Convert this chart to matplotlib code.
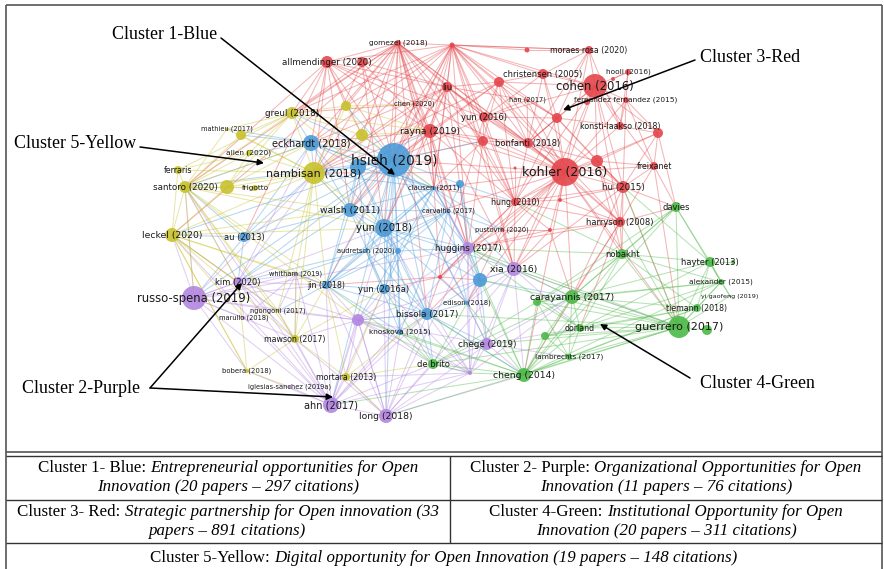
import matplotlib
matplotlib.use("Agg")
import matplotlib.pyplot as plt
from matplotlib.collections import LineCollection

# nodes of the co-citation map: (key, label, x, y, weight)
red_nodes = [
    ('allmendinger', 'allmendinger (2020)', 327, 62, 6),
    ('r_362', '', 362, 62, 5),
    ('gomezel', 'gomezel (2018)', 398, 43, 3),
    ('hub1', '', 452, 45, 2.5),
    ('r_527', '', 527, 50, 2.5),
    ('moraes', 'moraes rosa (2020)', 589, 50, 4),
    ('christensen', 'christensen (2005)', 543, 74, 5),
    ('r_499', '', 499, 82, 5),
    ('cohen', 'cohen (2016)', 595, 86, 12),
    ('hooli', 'hooli (2016)', 628, 72, 3),
    ('r_613', '', 613, 79, 2),
    ('fernandez', 'fernandez fernandez (2015)', 626, 100, 3),
    ('r_587', '', 587, 102, 3),
    ('liu', 'liu', 447, 87, 5),
    ('han', 'han (2017)', 527, 100, 1.5),
    ('chen', 'chen (2020)', 414, 104, 1.5),
    ('yun2016', 'yun (2016)', 484, 117, 5),
    ('r_557', '', 557, 118, 5),
    ('konsti', 'konsti-laakso (2018)', 620, 126, 4),
    ('r_658', '', 658, 133, 5),
    ('rayna', 'rayna (2019)', 430, 131, 7),
    ('r_483', '', 483, 141, 5),
    ('bonfanti', 'bonfanti (2018)', 528, 143, 5),
    ('kohler', 'kohler (2016)', 565, 172, 14),
    ('r_597', '', 597, 161, 6),
    ('freixanet', 'freixanet', 654, 166, 4),
    ('hu', 'hu (2015)', 623, 187, 6),
    ('hung', 'hung (2010)', 515, 202, 4),
    ('harryson', 'harryson (2008)', 620, 222, 5),
    ('r_560', '', 560, 200, 2),
    ('pustovrh', 'pustovrh (2020)', 502, 230, 1.5),
    ('r_550', '', 550, 230, 2),
    ('r_440', '', 440, 277, 2),
    ('r_515', '', 515, 168, 1.5),
]
blue_nodes = [
    ('hsieh', 'hsieh (2019)', 394, 160, 17),
    ('eckhardt', 'eckhardt (2018)', 311, 143, 8),
    ('b_358', '', 358, 167, 8),
    ('clausen', 'clausen (2011)', 434, 188, 2),
    ('b_460', '', 460, 184, 4),
    ('walsh', 'walsh (2011)', 350, 210, 7),
    ('yun2018', 'yun (2018)', 384, 228, 9),
    ('carvalho', 'carvalho (2017)', 448, 211, 1.5),
    ('audretsch', 'audretsch (2020)', 366, 251, 1.5),
    ('b_398', '', 398, 251, 3),
    ('au', 'au (2013)', 244, 237, 5),
    ('jin', 'jin (2018)', 326, 285, 4),
    ('yun2016a', 'yun (2016a)', 384, 289, 5),
    ('bissola', 'bissola (2017)', 427, 314, 6),
    ('b_480', '', 480, 280, 7),
    ('edison', 'edison (2018)', 467, 303, 2),
    ('knoskova', 'knoskova (2015)', 400, 332, 3),
]
purple_nodes = [
    ('russo', 'russo-spena (2019)', 194, 298, 12),
    ('kim', 'kim (2020)', 238, 282, 5),
    ('huggins', 'huggins (2017)', 468, 248, 6),
    ('xia', 'xia (2016)', 514, 269, 7),
    ('p_358', '', 358, 320, 6),
    ('chege', 'chege (2019)', 487, 344, 6),
    ('p_470', '', 470, 373, 2),
    ('ahn', 'ahn (2017)', 331, 405, 8),
    ('long', 'long (2018)', 386, 416, 7),
    ('whitham', 'whitham (2019)', 296, 274, 1.5),
    ('marullo', 'marullo (2018)', 244, 318, 1.5),
    ('iglesias', 'iglesias-sanchez (2019a)', 290, 387, 1.5),
]
yellow_nodes = [
    ('nambisan', 'nambisan (2018)', 314, 173, 11),
    ('greul', 'greul (2018)', 292, 113, 6),
    ('y_346', '', 346, 106, 5),
    ('y_362', '', 362, 135, 6),
    ('mathieu', 'mathieu (2017)', 227, 129, 1.5),
    ('y_241', '', 241, 135, 5),
    ('allen', 'allen (2020)', 249, 153, 3),
    ('ferraris', 'ferraris', 178, 170, 4),
    ('santoro', 'santoro (2020)', 185, 187, 6),
    ('y_227', '', 227, 187, 7),
    ('frigotto', 'frigotto', 255, 188, 3),
    ('leckel', 'leckel (2020)', 172, 235, 7),
    ('ngongoni', 'ngongoni (2017)', 278, 311, 1.5),
    ('mawson', 'mawson (2017)', 295, 339, 4),
    ('bobera', 'bobera (2018)', 247, 371, 2),
    ('mortara', 'mortara (2013)', 346, 377, 4),
]
green_nodes = [
    ('carayannis', 'carayannis (2017)', 572, 297, 7),
    ('g_537', '', 537, 302, 4),
    ('dorland', 'dorland', 580, 328, 4),
    ('g_545', '', 545, 336, 4),
    ('lambrechts', 'lambrechts (2017)', 569, 357, 3),
    ('cheng', 'cheng (2014)', 524, 375, 7),
    ('de_brito', 'de brito', 433, 364, 5),
    ('guerrero', 'guerrero (2017)', 679, 327, 11),
    ('g_707', '', 707, 330, 5),
    ('nobakht', 'nobakht', 622, 254, 5),
    ('davies', 'davies', 676, 207, 5),
    ('hayter', 'hayter (2013)', 710, 262, 5),
    ('g_733', '', 733, 262, 2),
    ('alexander', 'alexander (2015)', 721, 282, 3),
    ('yi', 'yi gaofeng (2019)', 730, 296, 1),
    ('tiemann', 'tiemann (2018)', 697, 308, 4),
]

# links between documents (source -> targets)
links = {
    'gomezel': ['allmendinger', 'r_362', 'hub1', 'liu', 'rayna', 'chen', 'greul', 'y_346', 'y_362', 'eckhardt',
                'hsieh', 'nambisan', 'walsh', 'clausen', 'yun2018', 'kohler', 'bonfanti', 'r_483', 'hung',
                'santoro', 'leckel', 'huggins', 'yun2016', 'carvalho', 'bissola', 'xia'],
    'hub1': ['r_527', 'moraes', 'christensen', 'r_499', 'liu', 'yun2016', 'rayna', 'r_483', 'bonfanti', 'kohler',
             'hsieh', 'nambisan', 'eckhardt', 'greul', 'y_346', 'walsh', 'yun2018', 'hung', 'cohen', 'r_557',
             'clausen', 'huggins', 'hu', 'harryson', 'allmendinger', 'xia', 'jin'],
    'allmendinger': ['greul', 'eckhardt', 'hsieh', 'nambisan', 'rayna', 'liu', 'yun2016', 'y_346', 'y_362',
                     'kohler', 'walsh', 'au', 'santoro'],
    'r_362': ['greul', 'hsieh', 'nambisan', 'rayna', 'liu', 'yun2018'],
    'moraes': ['christensen', 'cohen', 'r_557', 'kohler', 'r_527', 'hub1', 'bonfanti', 'konsti'],
    'christensen': ['cohen', 'r_499', 'r_557', 'kohler', 'bonfanti', 'yun2016'],
    'r_499': ['liu', 'yun2016', 'rayna', 'bonfanti', 'kohler', 'r_557', 'hsieh', 'hung', 'cohen', 'r_483',
              'nambisan'],
    'cohen': ['kohler', 'fernandez', 'r_587', 'konsti', 'r_557', 'bonfanti', 'hu', 'freixanet', 'hooli', 'r_658',
              'r_597', 'hung', 'harryson', 'xia'],
    'hooli': ['r_613', 'fernandez', 'konsti'],
    'fernandez': ['konsti', 'r_658', 'kohler', 'freixanet', 'hu'],
    'liu': ['rayna', 'yun2016', 'hsieh', 'nambisan', 'eckhardt', 'kohler', 'bonfanti', 'r_483', 'hung',
            'clausen', 'yun2018', 'huggins', 'walsh'],
    'yun2016': ['bonfanti', 'kohler', 'r_483', 'hung', 'r_557', 'hsieh', 'cohen', 'r_440'],
    'rayna': ['hsieh', 'nambisan', 'eckhardt', 'kohler', 'bonfanti', 'r_483', 'clausen', 'yun2018', 'hung',
              'walsh', 'carvalho', 'huggins', 'r_440'],
    'r_483': ['kohler', 'bonfanti', 'hung', 'hsieh', 'huggins', 'clausen', 'xia'],
    'bonfanti': ['kohler', 'hung', 'r_597', 'hu', 'harryson', 'r_557'],
    'kohler': ['r_597', 'hu', 'freixanet', 'harryson', 'hung', 'r_560', 'xia', 'huggins', 'hsieh', 'nambisan',
               'r_658', 'konsti', 'guerrero', 'carayannis', 'nobakht', 'pustovrh', 'r_550', 'clausen', 'r_440',
               'bissola', 'yun2018', 'cheng', 'edison'],
    'r_658': ['konsti', 'freixanet', 'hu', 'r_597', 'davies'],
    'hu': ['harryson', 'r_597', 'freixanet', 'r_560', 'hung', 'guerrero', 'nobakht', 'carayannis', 'davies', 'xia'],
    'harryson': ['hung', 'r_560', 'nobakht', 'carayannis', 'dorland', 'cheng', 'huggins', 'davies'],
    'hung': ['r_560', 'huggins', 'xia', 'r_550', 'r_440', 'clausen', 'r_515'],
    'freixanet': ['davies', 'guerrero', 'harryson'],
    'r_440': ['huggins', 'bissola', 'yun2016a', 'jin', 'edison', 'b_480'],
    'r_550': ['xia', 'huggins', 'carayannis', 'harryson'],
    'r_557': ['kohler', 'konsti', 'bonfanti', 'r_597', 'hu', 'hung'],
    'r_597': ['hu', 'freixanet', 'harryson', 'hung', 'nobakht'],
    'han': ['r_557', 'yun2016', 'bonfanti', 'kohler', 'liu'],
    'chen': ['rayna', 'hsieh', 'greul', 'liu', 'nambisan'],
    'pustovrh': ['huggins', 'xia', 'hung', 'r_550', 'edison'],
    'hsieh': ['eckhardt', 'b_358', 'nambisan', 'clausen', 'walsh', 'yun2018', 'carvalho', 'audretsch', 'b_398',
              'au', 'jin', 'yun2016a', 'bissola', 'b_480', 'edison', 'knoskova', 'huggins', 'greul', 'y_346',
              'y_362', 'r_483', 'kim', 'russo', 'leckel', 'santoro', 'b_460', 'ahn', 'long', 'chege'],
    'eckhardt': ['nambisan', 'greul', 'walsh', 'yun2018', 'b_358', 'au', 'santoro', 'allen', 'mathieu', 'y_241',
                 'clausen'],
    'b_358': ['walsh', 'yun2018', 'clausen', 'nambisan', 'audretsch', 'jin', 'b_398', 'rayna'],
    'walsh': ['yun2018', 'clausen', 'carvalho', 'jin', 'yun2016a', 'bissola', 'au', 'b_398', 'nambisan', 'kim'],
    'yun2018': ['clausen', 'carvalho', 'b_398', 'b_480', 'bissola', 'yun2016a', 'knoskova', 'jin', 'edison',
                'huggins', 'xia', 'de_brito'],
    'clausen': ['carvalho', 'audretsch', 'b_398', 'huggins', 'xia', 'pustovrh', 'yun2016a', 'jin', 'nambisan',
                'eckhardt'],
    'carvalho': ['audretsch', 'b_398', 'edison', 'knoskova', 'pustovrh', 'bissola', 'jin'],
    'audretsch': ['jin', 'yun2016a', 'whitham', 'kim', 'bissola', 'knoskova'],
    'b_398': ['yun2016a', 'bissola', 'jin', 'huggins', 'p_358', 'knoskova'],
    'jin': ['yun2016a', 'whitham', 'ngongoni', 'knoskova', 'bissola'],
    'b_480': ['xia', 'huggins', 'bissola', 'edison', 'carvalho', 'b_460', 'carayannis', 'chege'],
    'bissola': ['knoskova', 'edison', 'yun2016a', 'de_brito', 'chege', 'cheng', 'p_358'],
    'b_460': ['clausen', 'carvalho', 'huggins', 'hung'],
    'au': ['leckel', 'santoro', 'kim', 'russo', 'nambisan'],
    'russo': ['kim', 'leckel', 'santoro', 'whitham', 'marullo', 'ngongoni', 'mawson', 'p_358', 'nambisan',
              'jin', 'bobera', 'huggins', 'yun2018'],
    'kim': ['whitham', 'jin', 'ngongoni', 'marullo', 'p_358', 'mawson', 'leckel', 'santoro', 'nambisan',
            'eckhardt'],
    'whitham': ['ngongoni', 'marullo', 'jin', 'mawson'],
    'p_358': ['jin', 'yun2016a', 'bissola', 'knoskova', 'huggins', 'xia', 'mawson', 'mortara', 'ngongoni',
              'ahn', 'long', 'de_brito', 'chege'],
    'ahn': ['iglesias', 'bobera', 'mortara', 'mawson', 'russo', 'kim', 'jin', 'marullo', 'ngongoni', 'knoskova',
            'bissola', 'yun2016a', 'whitham', 'de_brito', 'long', 'huggins', 'yun2018', 'leckel', 'santoro'],
    'long': ['mortara', 'p_358', 'bissola', 'knoskova', 'de_brito', 'chege', 'yun2016a', 'mawson', 'jin',
             'huggins', 'xia', 'cheng', 'p_470'],
    'p_470': ['de_brito', 'chege', 'bissola', 'knoskova', 'edison', 'xia', 'huggins', 'p_358', 'yun2016a',
              'b_480', 'yun2018', 'carayannis', 'mortara', 'ahn'],
    'huggins': ['xia', 'chege', 'edison', 'carvalho', 'clausen'],
    'xia': ['chege', 'carayannis', 'cheng', 'edison', 'guerrero', 'dorland'],
    'chege': ['cheng', 'de_brito', 'carayannis', 'edison', 'dorland', 'lambrechts'],
    'santoro': ['leckel', 'ferraris', 'allen', 'frigotto', 'y_227', 'greul', 'nambisan', 'eckhardt', 'mathieu',
                'y_241', 'kim', 'russo', 'walsh', 'yun2018', 'mawson', 'ngongoni', 'jin', 'p_358'],
    'leckel': ['y_227', 'kim', 'ngongoni', 'marullo', 'mawson', 'bobera', 'nambisan', 'walsh', 'jin',
               'whitham', 'yun2018'],
    'y_227': ['frigotto', 'nambisan', 'greul', 'eckhardt', 'allen'],
    'nambisan': ['greul', 'y_346', 'y_362', 'mathieu', 'allen', 'frigotto', 'ferraris', 'y_241', 'walsh',
                 'yun2018', 'mawson', 'ngongoni', 'whitham', 'jin'],
    'greul': ['y_346', 'y_362', 'y_241', 'mathieu', 'allen', 'ferraris', 'rayna', 'b_358'],
    'y_346': ['y_362', 'rayna', 'chen'],
    'y_362': ['rayna', 'b_358', 'clausen'],
    'mawson': ['ngongoni', 'mortara', 'bobera', 'jin', 'yun2016a', 'whitham'],
    'mortara': ['long', 'jin', 'bissola', 'yun2016a', 'de_brito'],
    'bobera': ['iglesias', 'kim', 'leckel'],
    'ferraris': ['allen', 'leckel'],
    'guerrero': ['g_707', 'tiemann', 'alexander', 'hayter', 'yi', 'nobakht', 'davies', 'carayannis', 'g_537',
                 'dorland', 'g_545', 'lambrechts', 'cheng', 'chege', 'de_brito', 'xia', 'huggins', 'harryson',
                 'hu', 'b_480', 'bissola', 'long'],
    'hayter': ['alexander', 'nobakht', 'davies', 'g_733', 'tiemann', 'carayannis', 'yi', 'dorland', 'hu'],
    'alexander': ['tiemann', 'yi', 'nobakht', 'carayannis', 'davies', 'dorland', 'cheng', 'g_537'],
    'tiemann': ['carayannis', 'dorland', 'cheng', 'nobakht', 'g_545', 'lambrechts'],
    'nobakht': ['davies', 'carayannis', 'g_537', 'dorland', 'cheng', 'huggins', 'hung'],
    'davies': ['carayannis', 'g_537', 'cheng'],
    'carayannis': ['g_537', 'dorland', 'g_545', 'cheng', 'lambrechts', 'de_brito', 'huggins'],
    'cheng': ['de_brito', 'g_537', 'g_545', 'dorland', 'lambrechts', 'bissola', 'knoskova', 'b_480', 'edison',
              'huggins', 'p_470', 'ahn', 'p_358'],
    'de_brito': ['g_537', 'knoskova', 'edison', 'jin', 'yun2016a', 'p_470'],
    'lambrechts': ['dorland', 'g_545', 'g_537'],
    'dorland': ['g_545', 'g_537', 'huggins'],
}

cluster_notes = ['Cluster 1-Blue', 'Cluster 3-Red', 'Cluster 5-Yellow', 'Cluster 2-Purple', 'Cluster 4-Green']

table_rows = [
    ('Cluster 1- Blue:', 'Entrepreneurial opportunities for Open', 'Innovation (20 papers \u2013 297 citations)'),
    ('Cluster 2- Purple:', 'Organizational Opportunities for Open', 'Innovation (11 papers \u2013 76 citations)'),
    ('Cluster 3- Red:', 'Strategic partnership for Open innovation (33', 'papers \u2013 891 citations)'),
    ('Cluster 4-Green:', 'Institutional Opportunity for Open', 'Innovation (20 papers \u2013 311 citations)'),
    ('Cluster 5-Yellow:', 'Digital opportunity for Open Innovation (19 papers \u2013 148 citations)', ''),
]

colors = {'red': '#e4464b', 'blue': '#4b9bd8', 'purple': '#b386e0',
          'yellow': '#c8c22c', 'green': '#4cb947'}

clusters = [('red', red_nodes), ('blue', blue_nodes), ('purple', purple_nodes),
            ('yellow', yellow_nodes), ('green', green_nodes)]

pos = {}
col = {}
for c, nodes in clusters:
    for k, lab, x, y, w in nodes:
        pos[k] = (x, y)
        col[k] = colors[c]

fig = plt.figure(figsize=(8.84, 5.69), dpi=100)
ax = fig.add_axes([0, 0, 1, 1])
ax.set_xlim(0, 884)
ax.set_ylim(569, 0)
ax.axis('off')

# edges
segs, ecols = [], []
for s, tg in links.items():
    for t in tg:
        segs.append([pos[s], pos[t]])
        ecols.append(col[s])
ax.add_collection(LineCollection(segs, colors=ecols, linewidths=0.75, alpha=0.4, zorder=1))

# nodes + labels
for c, nodes in clusters:
    xs = [n[2] for n in nodes]
    ys = [n[3] for n in nodes]
    ss = [(1.44 * n[4]) ** 2 for n in nodes]
    ax.scatter(xs, ys, s=ss, color=colors[c], alpha=0.9, edgecolors='none', zorder=2)
for c, nodes in clusters:
    for k, lab, x, y, w in nodes:
        if lab:
            fs = min(4.3 + 0.34 * w, 9.8)
            ax.text(x, y, lab, fontsize=fs, ha='center', va='center', color='#1a1a1a', zorder=3)

# cluster call-outs
serif = 'Liberation Serif'
ax.text(112, 34, cluster_notes[0], fontsize=12.9, family=serif, va='center', ha='left')
ax.text(700, 57, cluster_notes[1], fontsize=12.9, family=serif, va='center', ha='left')
ax.text(14, 143, cluster_notes[2], fontsize=12.9, family=serif, va='center', ha='left')
ax.text(22, 388, cluster_notes[3], fontsize=12.9, family=serif, va='center', ha='left')
ax.text(700, 383, cluster_notes[4], fontsize=12.9, family=serif, va='center', ha='left')
arw = dict(arrowstyle='-|>', color='black', lw=1.1, mutation_scale=9, shrinkA=0, shrinkB=0)
for start, tip in [((221, 38), (395, 175)), ((695, 60), (563, 110)), ((140, 147), (264, 163)),
                   ((150, 388), (242, 283)), ((150, 388), (333, 397)), ((690, 378), (600, 324))]:
    ax.annotate('', xy=tip, xytext=start, arrowprops=arw, zorder=5)

# frame and table
lk = dict(color='#555555', lw=1.2, solid_capstyle='butt')
ax.plot([6, 882], [5, 5], **lk)
ax.plot([6, 6], [5, 569], **lk)
ax.plot([882, 882], [5, 569], **lk)
ax.plot([6, 882], [452, 452], **lk)
tk = dict(color='#333333', lw=1.0, solid_capstyle='butt')
ax.plot([6, 882], [455.5, 455.5], **tk)
ax.plot([6, 882], [500, 500], **tk)
ax.plot([6, 882], [543, 543], **tk)
ax.plot([450, 450], [455.5, 543], **tk)

renderer = fig.canvas.get_renderer()
tfs = 12.2


def mixed(xc, y, plain, ital, fs=tfs):
    t1 = ax.text(0, y, plain, fontsize=fs, family=serif, va='center', ha='left')
    t2 = ax.text(0, y, ital, fontsize=fs, family=serif, style='italic', va='center', ha='left')
    w1 = t1.get_window_extent(renderer).width
    w2 = t2.get_window_extent(renderer).width
    gap = 4
    x0 = xc - (w1 + gap + w2) / 2
    t1.set_x(x0)
    t2.set_x(x0 + w1 + gap)


centers = [(228, 468, 487), (666, 468, 487), (228, 512, 531), (666, 512, 531)]
for (xc, y1, y2), (p, i1, i2) in zip(centers, table_rows[:4]):
    mixed(xc, y1, p, i1)
    ax.text(xc, y2, i2, fontsize=tfs, family=serif, style='italic', va='center', ha='center')
p, i1, _ = table_rows[4]
mixed(444, 558, p, i1)

fig.savefig('out.png', dpi=100)
